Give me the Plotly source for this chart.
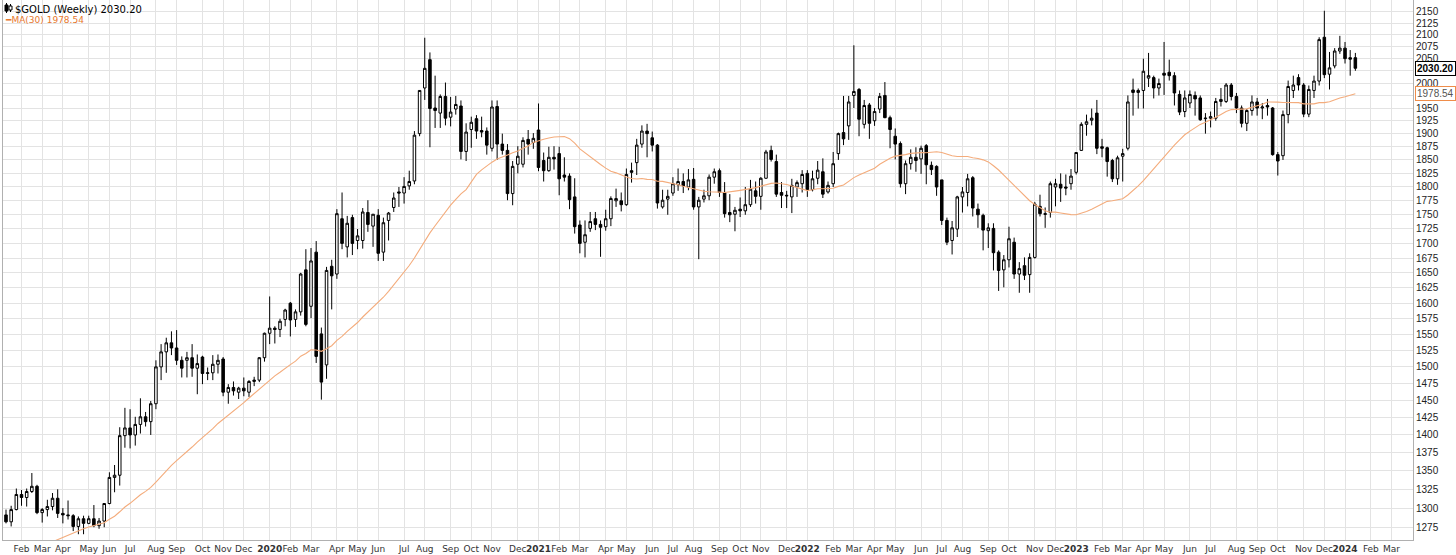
import numpy as np
import pandas as pd
import plotly.graph_objects as go

# ---------------- data (weekly $GOLD candles, first bar = week of 2019-01-14) ----------------
first_week = "2019-01-14"

opens = [
    1291, 1282, 1298, 1318, 1314, 1322, 1329, 1294, 1298, 1302,
    1313, 1293, 1291, 1290, 1276, 1286, 1280, 1286, 1277, 1283,
    1306, 1341, 1344, 1399, 1410, 1400, 1415, 1426, 1419, 1445,
    1500, 1523, 1537, 1529, 1510, 1510, 1514, 1498, 1515, 1490,
    1491, 1504, 1512, 1462, 1469, 1462, 1468, 1462, 1478, 1480,
    1514, 1552, 1560, 1558, 1574, 1600, 1574, 1586, 1655, 1595,
    1685, 1551, 1503, 1661, 1648, 1743, 1694, 1745, 1705, 1705,
    1754, 1730, 1749, 1685, 1740, 1763, 1791, 1789, 1802, 1811,
    1900, 1990, 2048, 1950, 1940, 1973, 1932, 1948, 1954, 1866,
    1908, 1929, 1906, 1905, 1872, 1953, 1880, 1868, 1788, 1842,
    1842, 1889, 1883, 1907, 1849, 1830, 1855, 1862, 1822, 1820,
    1782, 1732, 1702, 1726, 1743, 1733, 1729, 1743, 1775, 1775,
    1768, 1830, 1845, 1880, 1905, 1892, 1878, 1764, 1778, 1789,
    1804, 1810, 1800, 1814, 1764, 1778, 1784, 1818, 1830, 1790,
    1754, 1751, 1760, 1757, 1768, 1793, 1783, 1816, 1868, 1847,
    1790, 1785, 1782, 1800, 1806, 1825, 1795, 1816, 1828, 1791,
    1806, 1862, 1902, 1915, 1975, 1987, 1918, 1956, 1925, 1948,
    1975, 1931, 1895, 1881, 1806, 1843, 1855, 1852, 1877, 1840,
    1838, 1813, 1740, 1705, 1725, 1782, 1790, 1817, 1760, 1749,
    1722, 1726, 1685, 1655, 1672, 1702, 1648, 1662, 1647, 1676,
    1765, 1752, 1754, 1800, 1805, 1800, 1806, 1827, 1868, 1918,
    1926, 1940, 1875, 1873, 1849, 1815, 1857, 1872, 1986, 1981,
    1985, 2010, 2011, 1990, 2020, 2022, 2015, 1977, 1943, 1960,
    1975, 1970, 1929, 1930, 1930, 1963, 1963, 1996, 1973, 1950,
    1920, 1945, 1962, 1950, 1955, 1950, 1860, 1858, 1937, 1985,
    2011, 1996, 1938, 1985, 2004, 2095, 2018, 2035, 2066, 2072,
    2052, 2052,
]

highs = [
    1298, 1303, 1326, 1324, 1326, 1347, 1331, 1300, 1311, 1320,
    1325, 1300, 1310, 1292, 1289, 1290, 1290, 1304, 1287, 1306,
    1348, 1358, 1411, 1439, 1437, 1426, 1453, 1433, 1449, 1510,
    1535, 1545, 1555, 1557, 1516, 1523, 1535, 1519, 1517, 1499,
    1518, 1519, 1515, 1474, 1478, 1470, 1484, 1480, 1485, 1515,
    1553, 1611, 1563, 1575, 1591, 1602, 1590, 1650, 1690, 1692,
    1704, 1561, 1660, 1672, 1760, 1790, 1748, 1750, 1725, 1762,
    1776, 1750, 1760, 1745, 1755, 1790, 1800, 1818, 1830, 1905,
    1985, 2094, 2063, 2015, 1977, 2001, 1972, 1974, 1965, 1920,
    1933, 1936, 1933, 1912, 1965, 1965, 1900, 1880, 1848, 1876,
    1893, 1907, 1901, 1959, 1864, 1875, 1876, 1875, 1855, 1825,
    1816, 1740, 1740, 1755, 1755, 1740, 1759, 1783, 1797, 1790,
    1834, 1845, 1890, 1916, 1919, 1904, 1880, 1795, 1795, 1818,
    1834, 1825, 1833, 1835, 1782, 1795, 1823, 1834, 1834, 1809,
    1787, 1764, 1781, 1800, 1813, 1810, 1818, 1869, 1877, 1860,
    1809, 1793, 1815, 1812, 1831, 1831, 1830, 1848, 1853, 1810,
    1865, 1902, 1974, 1974, 2078, 1990, 1966, 1960, 1950, 1980,
    2002, 1935, 1910, 1885, 1849, 1870, 1874, 1877, 1880, 1847,
    1840, 1813, 1745, 1739, 1784, 1800, 1824, 1820, 1770, 1752,
    1735, 1735, 1688, 1680, 1729, 1710, 1668, 1676, 1683, 1773,
    1786, 1763, 1810, 1815, 1825, 1823, 1833, 1865, 1922, 1937,
    1949, 1966, 1890, 1875, 1852, 1858, 1871, 1975, 2009, 1989,
    2050, 2062, 2015, 2009, 2085, 2048, 2022, 1985, 1985, 1985,
    1983, 1975, 1940, 1943, 1970, 1990, 2000, 2000, 1980, 1955,
    1948, 1975, 1970, 1960, 1968, 1952, 1865, 1945, 2005, 2015,
    2018, 2000, 1995, 2015, 2095, 2152, 2064, 2072, 2098, 2085,
    2068, 2062,
]

lows = [
    1280, 1276, 1297, 1303, 1302, 1320, 1292, 1281, 1289, 1297,
    1287, 1280, 1285, 1270, 1266, 1266, 1279, 1275, 1273, 1275,
    1305, 1321, 1330, 1382, 1381, 1385, 1402, 1412, 1400, 1437,
    1480, 1491, 1518, 1503, 1484, 1484, 1485, 1459, 1474, 1480,
    1480, 1490, 1456, 1445, 1457, 1452, 1456, 1455, 1471, 1477,
    1508, 1535, 1536, 1546, 1563, 1547, 1562, 1580, 1563, 1576,
    1506, 1451, 1482, 1590, 1640, 1690, 1676, 1680, 1690, 1691,
    1720, 1694, 1670, 1670, 1705, 1755, 1764, 1770, 1795, 1805,
    1895, 1966, 1874, 1911, 1911, 1916, 1914, 1937, 1851, 1848,
    1873, 1890, 1893, 1860, 1866, 1850, 1860, 1776, 1767, 1825,
    1836, 1860, 1871, 1829, 1810, 1828, 1832, 1785, 1810, 1760,
    1717, 1683, 1676, 1720, 1723, 1677, 1722, 1730, 1764, 1756,
    1766, 1808, 1822, 1873, 1855, 1866, 1761, 1761, 1750, 1784,
    1793, 1789, 1794, 1759, 1673, 1772, 1776, 1806, 1782, 1745,
    1737, 1721, 1746, 1750, 1764, 1770, 1759, 1815, 1847, 1782,
    1762, 1762, 1753, 1782, 1790, 1782, 1792, 1805, 1780, 1788,
    1800, 1850, 1878, 1888, 1950, 1895, 1910, 1890, 1915, 1940,
    1930, 1872, 1851, 1799, 1787, 1832, 1828, 1824, 1805, 1822,
    1784, 1732, 1697, 1681, 1711, 1754, 1765, 1747, 1727, 1688,
    1692, 1654, 1620, 1626, 1659, 1640, 1617, 1638, 1617, 1674,
    1747, 1727, 1745, 1765, 1773, 1785, 1795, 1823, 1867, 1896,
    1916, 1861, 1855, 1819, 1809, 1804, 1810, 1868, 1935, 1949,
    1949, 1992, 1969, 1975, 1976, 2005, 1955, 1936, 1932, 1950,
    1935, 1925, 1900, 1912, 1925, 1953, 1960, 1965, 1940, 1912,
    1905, 1935, 1935, 1928, 1935, 1858, 1821, 1850, 1920, 1970,
    1985, 1932, 1932, 1970, 1995, 2010, 1987, 2030, 2060, 2040,
    2015, 2025,
]

closes = [
    1282, 1298, 1318, 1314, 1322, 1329, 1294, 1298, 1302, 1313,
    1293, 1291, 1290, 1276, 1286, 1280, 1286, 1277, 1283, 1306,
    1341, 1344, 1399, 1410, 1400, 1415, 1426, 1419, 1445, 1500,
    1523, 1537, 1529, 1510, 1498, 1514, 1498, 1505, 1490, 1491,
    1504, 1510, 1462, 1469, 1464, 1468, 1464, 1478, 1480, 1514,
    1552, 1560, 1558, 1571, 1589, 1573, 1586, 1648, 1566, 1670,
    1516, 1477, 1654, 1645, 1752, 1700, 1735, 1700, 1713, 1755,
    1733, 1751, 1683, 1736, 1753, 1780, 1789, 1801, 1810, 1897,
    1985, 2030, 1949, 1945, 1973, 1930, 1942, 1957, 1866, 1903,
    1922, 1905, 1903, 1878, 1952, 1880, 1868, 1788, 1838, 1857,
    1887, 1880, 1891, 1836, 1830, 1855, 1852, 1815, 1818, 1777,
    1729, 1700, 1715, 1738, 1733, 1728, 1743, 1779, 1779, 1768,
    1823, 1827, 1878, 1905, 1900, 1878, 1771, 1776, 1783, 1806,
    1810, 1802, 1813, 1764, 1776, 1784, 1818, 1828, 1790, 1752,
    1750, 1758, 1757, 1768, 1796, 1783, 1816, 1865, 1851, 1787,
    1785, 1784, 1803, 1808, 1823, 1795, 1815, 1831, 1787, 1803,
    1843, 1900, 1890, 1962, 1983, 1928, 1955, 1920, 1943, 1973,
    1931, 1908, 1880, 1806, 1843, 1855, 1849, 1872, 1841, 1832,
    1800, 1740, 1702, 1727, 1782, 1791, 1815, 1762, 1750, 1723,
    1727, 1684, 1654, 1672, 1708, 1648, 1657, 1646, 1676, 1769,
    1752, 1751, 1806, 1806, 1798, 1798, 1820, 1864, 1918, 1923,
    1930, 1872, 1872, 1847, 1815, 1854, 1862, 1962, 1981, 1985,
    2024, 2015, 1990, 1999, 2016, 2015, 1980, 1942, 1970, 1977,
    1968, 1927, 1930, 1933, 1963, 1967, 1996, 1973, 1950, 1920,
    1945, 1962, 1950, 1952, 1952, 1860, 1848, 1937, 1993, 1996,
    1996, 1938, 1987, 2004, 2090, 2017, 2031, 2066, 2072, 2050,
    2049, 2030.2,
]

# 29 weekly closes preceding the first bar (needed to start the 30-week MA)
prior_closes = [1254, 1256, 1242, 1231, 1223, 1219, 1219, 1184, 1213, 1206,
                1200, 1201, 1201, 1196, 1207, 1222, 1230, 1235, 1233, 1210,
                1224, 1223, 1222, 1252, 1241, 1258, 1283, 1286, 1289]

ma_period = 30
price_label = "2030.20"
ma_label = "1978.54"
month_names = ["Jan", "Feb", "Mar", "Apr", "May", "Jun",
               "Jul", "Aug", "Sep", "Oct", "Nov", "Dec"]
y_ticks = list(range(1275, 2176, 25))
y_hidden_ticks = [1975, 2025]   # covered by the price boxes
future_weeks = 10               # empty weeks shown after the last bar

n = len(closes)
assert len(opens) == len(highs) == len(lows) == n

# ---------------- derived ----------------
weeks = pd.date_range(first_week, periods=n, freq="7D")
all_close = pd.Series(prior_closes + closes, dtype=float)
ma = all_close.rolling(ma_period).mean().iloc[len(prior_closes):].values

# month ticks: first weekly bar of each month (incl. empty future weeks)
ext_weeks = pd.date_range(first_week, periods=n + future_weeks, freq="7D")
tickvals, ticktext = [], []
for k in range(1, len(ext_weeks)):
    d, p = ext_weeks[k], ext_weeks[k - 1]
    if d.month != p.month:
        tickvals.append(d)
        ticktext.append(f"<b>{d.year}</b>" if d.month == 1 else month_names[d.month - 1])

x_start = weeks[0] - pd.Timedelta(days=7 * 0.58)
x_end = weeks[0] + pd.Timedelta(days=7 * 272.15)

fig = go.Figure()
fig.add_trace(go.Candlestick(
    x=weeks, open=opens, high=highs, low=lows, close=closes,
    increasing=dict(line=dict(color="#000000", width=1), fillcolor="#ffffff"),
    decreasing=dict(line=dict(color="#000000", width=1), fillcolor="#000000"),
    whiskerwidth=0, showlegend=False, hoverinfo="skip",
))
fig.add_trace(go.Scatter(
    x=weeks, y=ma, mode="lines",
    line=dict(color="#f4ac7c", width=1.1),
    showlegend=False, hoverinfo="skip",
))

W, H = 1456, 555
ml, mr, mt, mb = 3, 43, 0, 15
pw, ph = W - ml - mr, H - mt - mb


def px(xp):
    return (xp - ml) / pw


def py(yp):
    return 1 - (yp - mt) / ph


fig.update_layout(
    width=W, height=H,
    margin=dict(l=ml, r=mr, t=mt, b=mb, autoexpand=False),
    paper_bgcolor="#ffffff", plot_bgcolor="#ffffff",
    font=dict(family="DejaVu Sans, Verdana, sans-serif", size=10, color="#222222"),
    xaxis=dict(
        type="date", range=[x_start, x_end],
        tickvals=tickvals, ticktext=ticktext, tickangle=0, automargin=False,
        showgrid=True, gridcolor="#e3e3e3", gridwidth=1,
        showline=True, linecolor="#b0b0b0", linewidth=1,
        ticks="", ticklen=0, tickfont=dict(size=9, color="#333333"),
        rangeslider=dict(visible=False), zeroline=False,
    ),
    yaxis=dict(
        type="log", side="right", automargin=False,
        range=[np.log10(1258.6), np.log10(2175.6)],
        tickvals=y_ticks,
        ticktext=["" if v in y_hidden_ticks else str(v) for v in y_ticks],
        showgrid=True, gridcolor="#e3e3e3", gridwidth=1,
        showline=True, linecolor="#b0b0b0", linewidth=1, mirror=True,
        ticks="", ticklen=0,
        tickfont=dict(family="Liberation Sans, Arial, sans-serif", size=10, color="#222222"),
        zeroline=False,
    ),
    hovermode=False,
)

# legend (top-left)
fig.add_annotation(xref="paper", yref="paper", x=px(13), y=py(9),
                   xanchor="left", yanchor="middle", showarrow=False,
                   text="$GOLD (Weekly) " + price_label,
                   font=dict(family="DejaVu Sans, Verdana, sans-serif", size=10, color="#000000"))
fig.add_annotation(xref="paper", yref="paper", x=px(3), y=py(20),
                   xanchor="left", yanchor="middle", showarrow=False,
                   text="━MA(30) " + ma_label,
                   font=dict(family="DejaVu Sans, Verdana, sans-serif", size=9, color="#e8782e"))
# small candle icon
fig.add_shape(type="line", xref="paper", yref="paper", x0=px(6.5), x1=px(6.5), y0=py(3), y1=py(13),
              line=dict(color="#000", width=1))
fig.add_shape(type="rect", xref="paper", yref="paper", x0=px(5), x1=px(8), y0=py(5), y1=py(11),
              line=dict(color="#000", width=1), fillcolor="#000")
fig.add_shape(type="line", xref="paper", yref="paper", x0=px(10.5), x1=px(10.5), y0=py(4), y1=py(12),
              line=dict(color="#000", width=1))
fig.add_shape(type="rect", xref="paper", yref="paper", x0=px(9), x1=px(12), y0=py(6), y1=py(10),
              line=dict(color="#000", width=1), fillcolor="#fff")

# last price / MA boxes on the right axis
fig.add_annotation(xref="paper", yref="y", x=1, y=np.log10(closes[-1]),
                   xanchor="left", yanchor="middle", xshift=2, showarrow=False,
                   text="<b>" + price_label + "</b>",
                   font=dict(family="Liberation Sans, Arial, sans-serif", size=10, color="#000000"),
                   bordercolor="#000000", borderwidth=1, borderpad=1, bgcolor="#ffffff")
fig.add_annotation(xref="paper", yref="y", x=1, y=np.log10(ma[-1]),
                   xanchor="left", yanchor="middle", xshift=2, showarrow=False,
                   text=ma_label,
                   font=dict(family="Liberation Sans, Arial, sans-serif", size=10, color="#555555"),
                   bordercolor="#ef8d4a", borderwidth=1, borderpad=1, bgcolor="#ffffff")

# remove the default page margin so the 1456x555 figure fills the window exactly
fig.write_html("out.html", post_script="document.body.style.margin='0';",
               config={"displayModeBar": False})
